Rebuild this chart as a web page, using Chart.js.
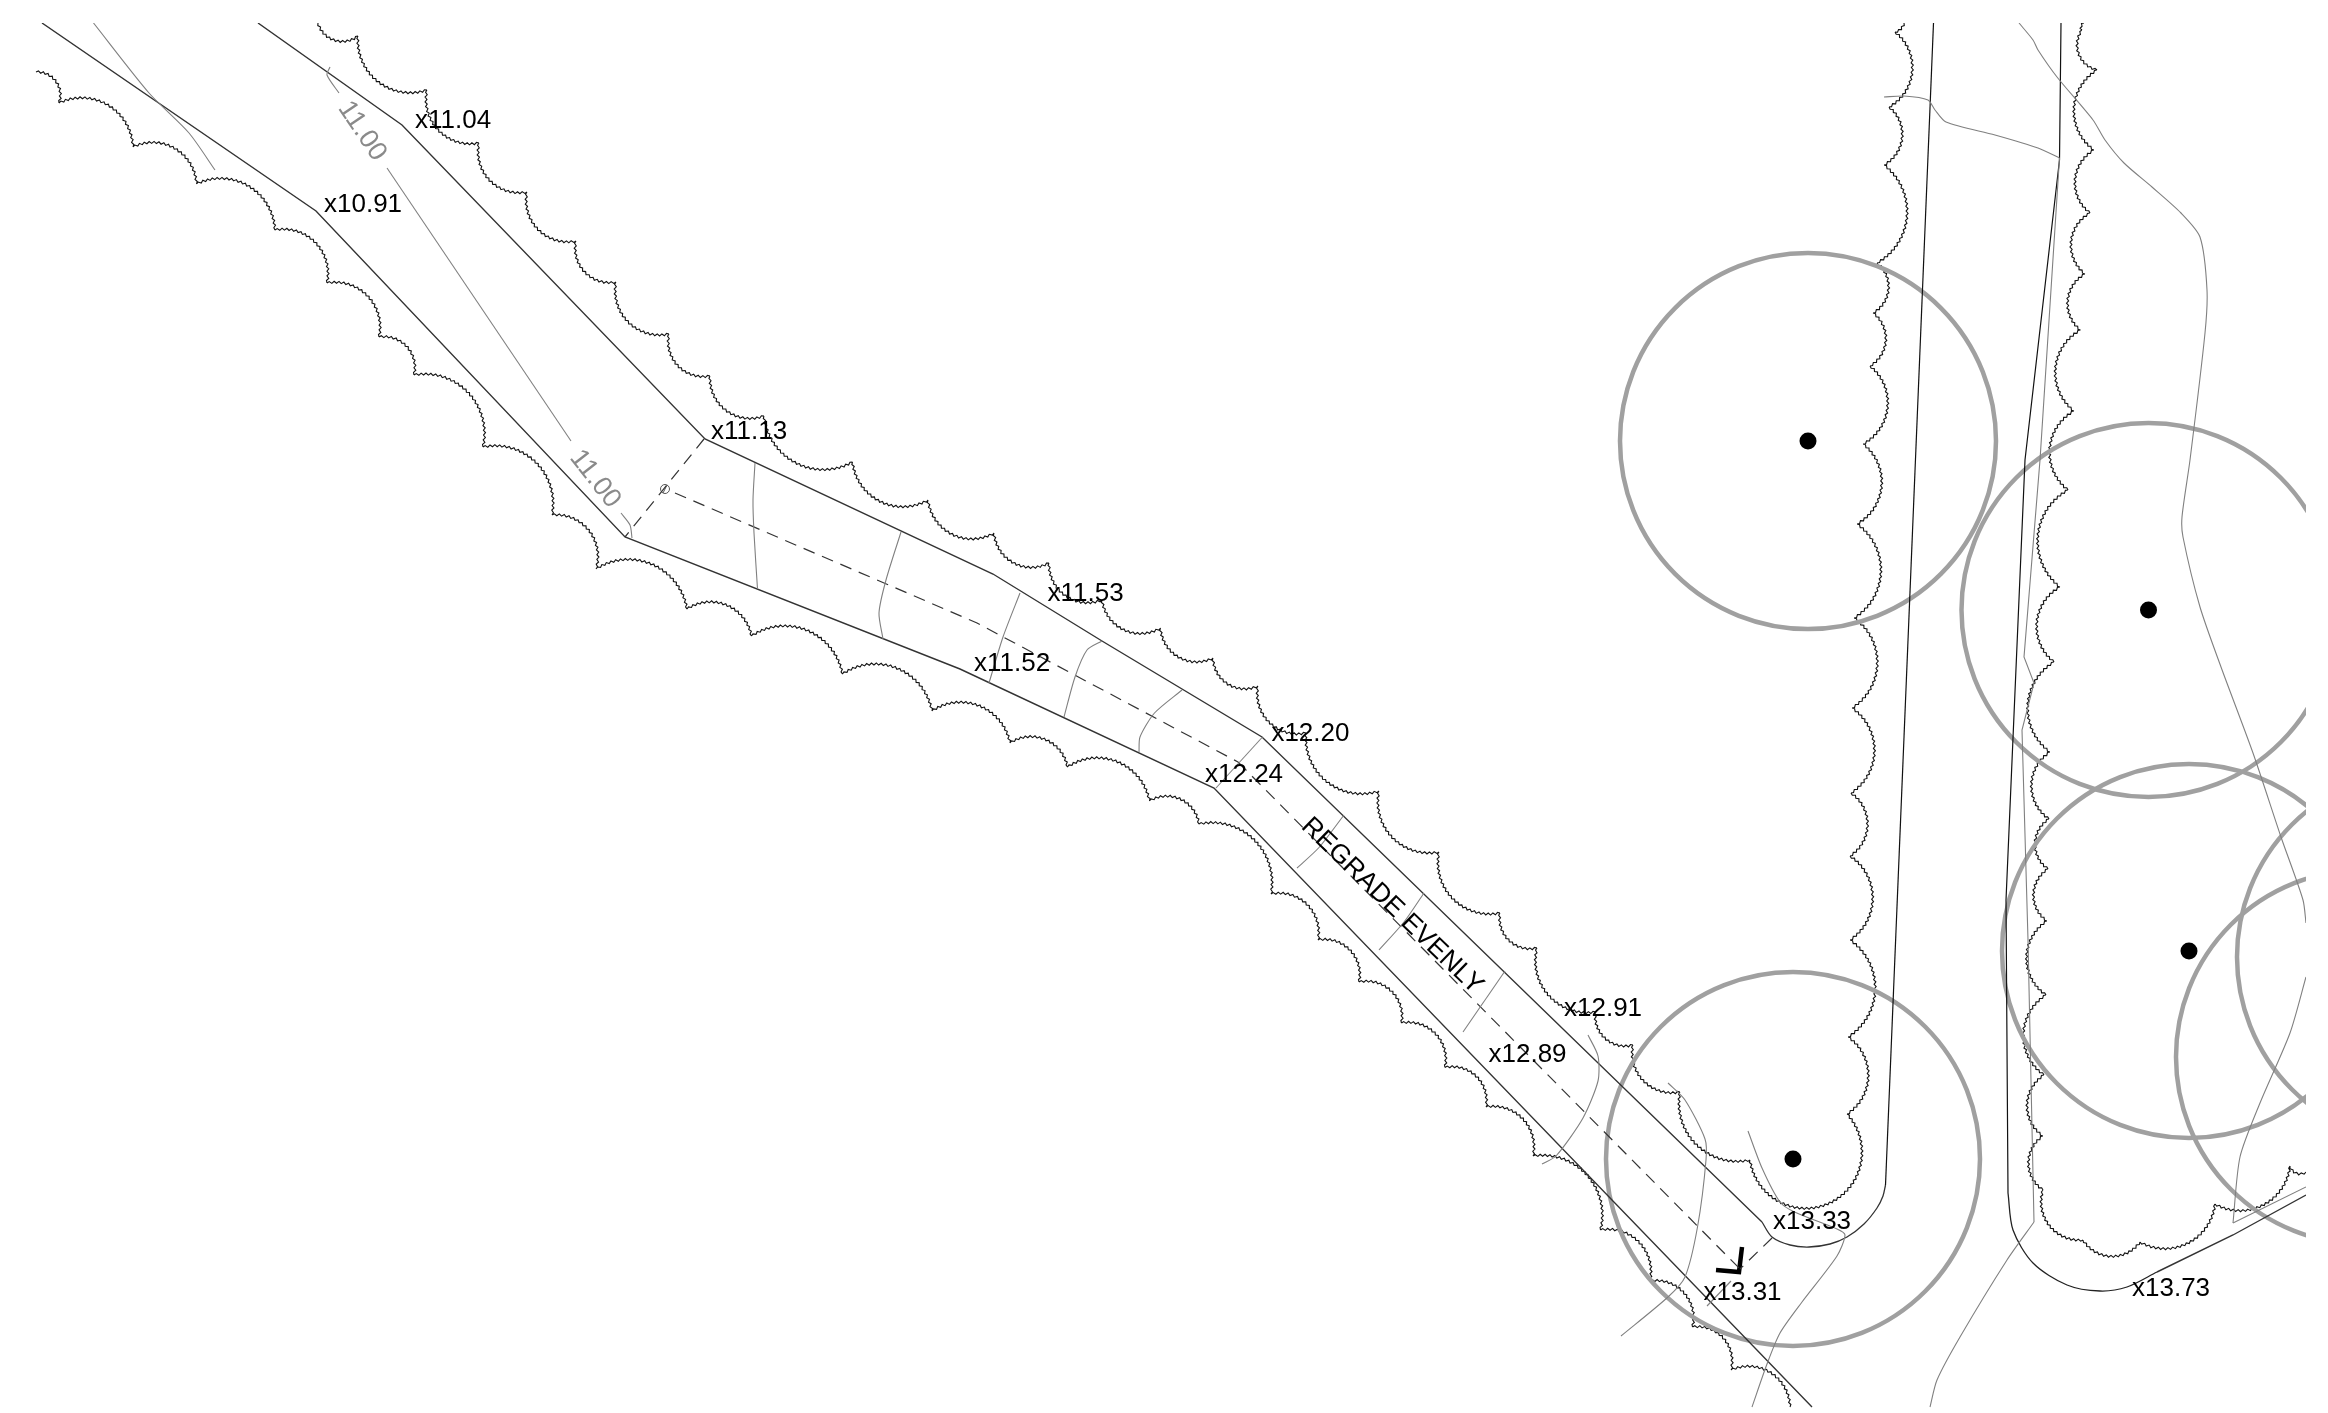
<!DOCTYPE html>
<html>
<head>
<meta charset="utf-8">
<title>Regrade plan</title>
<script src="https://cdn.jsdelivr.net/npm/chart.js@4"></script>
<style>
  html, body { margin: 0; padding: 0; background: #fff; }
  canvas { display: block; }
</style>
</head>
<body>
<canvas id="plan" width="2328" height="1413"></canvas>
<script>
// Swale and road edges
const swaleLower = [[42,23],[316,211],[625,537],[960,669],[1214,788],[1812,1407]];
const swaleUpper = [[258,23],[402,125],[705,439],[993,574],[1102,641],[1262,737],[1762,1222]];
const roadCurbLeft = [[1762,1222],[1772,1237],[1790,1245],[1809,1247],[1830,1244],[1847,1237],[1864,1224],[1877,1208],[1883,1196],[1885.5,1185]];
const roadLineLeft = [[1885.5,1185],[1933.5,23]];
const roadLineRight = [[2061,23],[2059.5,160],[2025,460],[2006,900],[2008,1193]];
const roadCurbRight = [[2008,1193],[2013,1230],[2033,1263],[2067,1285],[2100,1291],[2127,1287],[2157,1272]];
const roadEdgeBottom = [[2157,1272],[2233,1235],[2306,1195]];

// Existing contours (thin grey)
const contourTopLeft = [[93.5,23],[149,93],[189,133],[215,170]];
const contourShort = [[330,67],[327,75],[339,93]];
const contourLong = [[387,168],[571,441]];
const contourCorner = [[621,513],[630,525],[632,538]];
const contourA = [[755,463],[753,500],[754,533],[757.5,589]];
const contourB = [[901,532],[886,580],[879,613],[883,639]];
const contourC = [[1020,593],[1003,637],[989,683]];
const contourD = [[1102,641],[1087,650],[1075,677],[1064,717]];
const contourE = [[1182,690],[1154.5,713],[1140,737],[1139,752]];
const contourF = [[1262.5,737],[1216,788]];
const contourG = [[1344,815],[1319,847.5],[1297,868]];
const contourH = [[1424,893],[1404,922],[1379,950]];
const contourI = [[1505,971],[1463,1032]];
const contourJ = [[1588,1035],[1598,1056],[1598,1081],[1583,1118],[1556,1156],[1542,1164]];
const contourK = [[1668,1083],[1685,1100],[1705,1139],[1706,1160],[1697.5,1227],[1685,1277],[1668,1297],[1621,1336]];
const contourL = [[1748,1131],[1762,1168],[1780,1202],[1794.5,1212],[1837,1229],[1845,1235],[1837,1256],[1802,1302],[1780,1333],[1767,1364],[1752,1407]];
const contourSlash = [[1731,1281],[1707,1306]];
const contourTop = [[1884,97],[1904,96],[1928,100],[1935,110],[1946,122],[1995,135],[2038,148],[2059.5,158]];
const contourRoadGrey = [[2059.5,158],[2040,460],[2024,657],[2034,683],[2022,730],[2028,940],[2034,1222]];
const contourRoadSouth = [[2034,1222],[2007,1260],[1960,1337],[1937,1380],[1930,1407]];
const contourFarRight = [[2019,23],[2033,40],[2038,50],[2057,77],[2093,120],[2105,140],[2124,163],[2152,187],[2181,213],[2200,237],[2207,290],[2205,333],[2190,460],[2182,517],[2183,537],[2200,607],[2221,667],[2253,753],[2281,837],[2303,900],[2306,923]];
const contourLowerEdge = [[2306,1187],[2233,1223]];
const contourLowerRight = [[2233,1223],[2240,1157],[2260,1103],[2290,1033],[2306,977]];

// Regrade centre line and section marks
const sectionTop = [[704,439],[625,537]];
const centreLineA = [[675,493],[977,623],[1238,762]];
const centreLineB = [[1238,762],[1740,1269]];
const sectionBottom = [[1772,1238],[1740,1269]];
const endMark = [[1742,1247],[1739,1272],[1716,1270]];
const startSlash = [[663,493],[667,485]];
const startCircle = [{x:665,y:489,r:4.5}];

// Tree trunks and canopies
const treeDots = [{x:1808,y:441,r:8.5},{x:2148.5,y:610,r:8.5},{x:2189,y:951,r:8.5},{x:1793,y:1159,r:8.5}];
const canopies = [{x:1808,y:441,r:188},{x:2148.5,y:610,r:187},{x:2189,y:951,r:187},{x:1793,y:1159,r:187},{x:2363,y:1057,r:187},{x:2424,y:957,r:187}];

// Planting bed outlines: cusps of each scallop, optional third value is the bulge depth
const bedUpper = [[318,23,.2],[358,36],[427,90],[479,143],[527,192],[576,241],[616,282],[669,334],[710,376],[764,416],[852.5,462],[928,500],[994,533],[1049,563],[1102,600],[1160.5,628],[1213,658],[1258,686],[1306,733],[1379,791],[1439,852],[1500,913],[1537,948],[1595.5,1012],[1633,1045],[1680,1092],[1750,1160],[1847,1114,.68],[1848,1037],[1850,940],[1850,856],[1851,793],[1852,708],[1854,618],[1857,524],[1863,444],[1870,366],[1873,313],[1877,263],[1884,165],[1889,107],[1895,32],[1904,23,.15]];
const bedLower = [[36,72],[59,103],[133,147],[196.5,184],[275,230],[327,283],[379,337],[414,375],[483,447],[552,515],[596,569],[687,609],[751.5,636],[842.5,674],[932,711],[1010,743],[1067.5,767],[1149.5,801],[1199,824],[1271,894],[1318,940],[1359,982],[1401.5,1023],[1445,1067.5],[1486,1107],[1533,1156],[1600.5,1230],[1650,1281],[1692.5,1327],[1731,1370],[1790,1407]];
const bedRight = [[2084,23],[2082,30],[2097,70],[2094,150],[2090,213],[2085,274],[2080.5,330],[2074,411],[2068,490],[2060,587],[2054,662],[2050,752],[2049,819],[2048,869],[2047,921],[2046,995],[2044,1075],[2043,1136],[2043,1190],[2083,1240],[2140,1242],[2215,1204],[2290,1166],[2306,1172]];

// Spot levels
const spotLabels = ['x11.04','x10.91','x11.13','x11.53','x11.52','x12.20','x12.24','x12.91','x12.89','x13.33','x13.31','x13.73'];
const spotX = [415,324,711,1047.5,974,1271.4,1205,1564,1488.5,1773,1703.5,2132];
const spotY = [128,212,439,601,671,741,782,1016,1062,1229,1299.6,1296];

// Rotated notes
const noteLabels = ['REGRADE EVENLY','11.00','11.00'];
const noteX = [1392,362,595];
const noteY = [906,131,479];
const noteAngles = [44,56,52];
const noteColours = ['#000','#8a8a8a','#8a8a8a'];

function linha(data, cor, largura, extra) {
    return Object.assign({ data: data, showLine: true, borderColor: cor, borderWidth: largura, pointRadius: 0, clip: 0, tension: 0 }, extra || {});
}

// Draws the bed scallops as small wavy arcs between the cusps
const scallopPlugin = {
    id: 'scallops',
    beforeDatasetsDraw(chart) {
        const { ctx, chartArea, scales } = chart;
        ctx.save();
        ctx.beginPath();
        ctx.rect(chartArea.left, chartArea.top, chartArea.width, chartArea.height);
        ctx.clip();
        ctx.strokeStyle = '#111';
        ctx.lineWidth = 1.1;
        chart.data.datasets.forEach(ds => {
            if (!ds.scallopSide) return;
            ctx.beginPath();
            ds.data.forEach((d, i) => {
                if (i === 0) return;
                const p = [scales.x.getPixelForValue(ds.data[i-1][0]), scales.y.getPixelForValue(ds.data[i-1][1])];
                const q = [scales.x.getPixelForValue(d[0]), scales.y.getPixelForValue(d[1])];
                const dx = q[0]-p[0], dy = q[1]-p[1], c = Math.hypot(dx, dy);
                const h = (d[2] || 0.27) * c;
                const R = (c*c/4 + h*h) / (2*h);
                const nx = ds.scallopSide*dy/c, ny = -ds.scallopSide*dx/c;
                const cx = (p[0]+q[0])/2 - nx*(R-h), cy = (p[1]+q[1])/2 - ny*(R-h);
                const a0 = Math.atan2(p[1]-cy, p[0]-cx);
                const theta = 4*Math.atan(2*h/c);
                let diff = Math.atan2(ny, nx) - a0;
                diff = Math.atan2(Math.sin(diff), Math.cos(diff));
                const dir = diff >= 0 ? 1 : -1;
                const n = Math.max(2, Math.round(R*theta/2.4));
                ctx.moveTo(p[0], p[1]);
                for (let k = 1; k <= n; k++) {
                    const a = a0 + dir*theta*k/n;
                    const r = k === n ? R : R + (k % 2 ? 1 : -1);
                    ctx.lineTo(cx + r*Math.cos(a), cy + r*Math.sin(a));
                }
            });
            ctx.stroke();
        });
        ctx.restore();
    }
};

// Spot levels and notes, placed through the scales
const textPlugin = {
    id: 'planText',
    afterDatasetsDraw(chart) {
        const { ctx, scales } = chart;
        ctx.save();
        ctx.font = '26px "Liberation Sans"';
        ctx.fillStyle = '#000';
        ctx.textAlign = 'left';
        ctx.textBaseline = 'alphabetic';
        spotLabels.forEach((t, i) => {
            ctx.fillText(t, scales.x.getPixelForValue(spotX[i]), scales.y.getPixelForValue(spotY[i]));
        });
        noteLabels.forEach((t, i) => {
            ctx.save();
            ctx.translate(scales.x.getPixelForValue(noteX[i]), scales.y.getPixelForValue(noteY[i]));
            ctx.rotate(noteAngles[i]*Math.PI/180);
            ctx.textAlign = 'center';
            ctx.textBaseline = 'middle';
            ctx.fillStyle = noteColours[i];
            ctx.font = (i === 0 ? 26.5 : 27) + 'px "Liberation Sans"';
            ctx.fillText(t, 0, 0);
            ctx.restore();
        });
        ctx.restore();
    }
};

const cinzaFino = '#808080';
const contornos = [contourTopLeft, contourShort, contourCorner, contourA, contourB, contourC, contourD, contourE, contourG, contourH, contourI, contourJ, contourK, contourL, contourTop, contourRoadSouth, contourFarRight, contourLowerRight];
const retas = [contourLong, contourF, contourSlash, contourRoadGrey, contourLowerEdge];

const datasets = [];
contornos.forEach(c => datasets.push(linha(c, cinzaFino, 1.1, { tension: 0.25 })));
retas.forEach(c => datasets.push(linha(c, cinzaFino, 1.1)));
[swaleLower, swaleUpper, roadEdgeBottom].forEach(c => datasets.push(linha(c, '#333', 1.4)));
datasets.push(linha(roadCurbLeft, '#333', 1.3, { tension: 0.3 }));
datasets.push(linha(roadCurbRight, '#222', 1.3, { tension: 0.3 }));
[roadLineLeft, roadLineRight].forEach(c => datasets.push(linha(c, '#111', 1.2)));
[sectionTop, centreLineA, centreLineB, sectionBottom].forEach(c => datasets.push(linha(c, '#333', 1.2, { borderDash: [12, 8] })));
datasets.push(linha(endMark, '#000', 4.5));
datasets.push(linha(startSlash, '#555', 1));
datasets.push({ data: bedUpper, scallopSide: -1, showLine: false, pointRadius: 0 });
datasets.push({ data: bedLower, scallopSide: 1, showLine: false, pointRadius: 0 });
datasets.push({ data: bedRight, scallopSide: -1, showLine: false, pointRadius: 0 });
datasets.push({ type: 'bubble', data: canopies, backgroundColor: 'transparent', borderColor: '#a0a0a0', borderWidth: 4.5, clip: 0 });
datasets.push({ type: 'bubble', data: treeDots, backgroundColor: '#000', borderWidth: 0, clip: 0 });
datasets.push({ type: 'bubble', data: startCircle, backgroundColor: 'transparent', borderColor: '#555', borderWidth: 1, clip: 0 });

new Chart(document.getElementById('plan').getContext('2d'), {
    type: 'scatter',
    data: { datasets: datasets },
    plugins: [scallopPlugin, textPlugin],
    options: {
        responsive: false,
        animation: false,
        devicePixelRatio: 1,
        events: [],
        layout: { autoPadding: false, padding: { left: 0, top: 23, right: 22, bottom: 5 } },
        plugins: { legend: { display: false }, tooltip: { enabled: false } },
        scales: {
            x: { type: 'linear', min: 0, max: 2306, display: false },
            y: { type: 'linear', min: 23, max: 1408, reverse: true, display: false }
        }
    }
});
</script>
</body>
</html>
